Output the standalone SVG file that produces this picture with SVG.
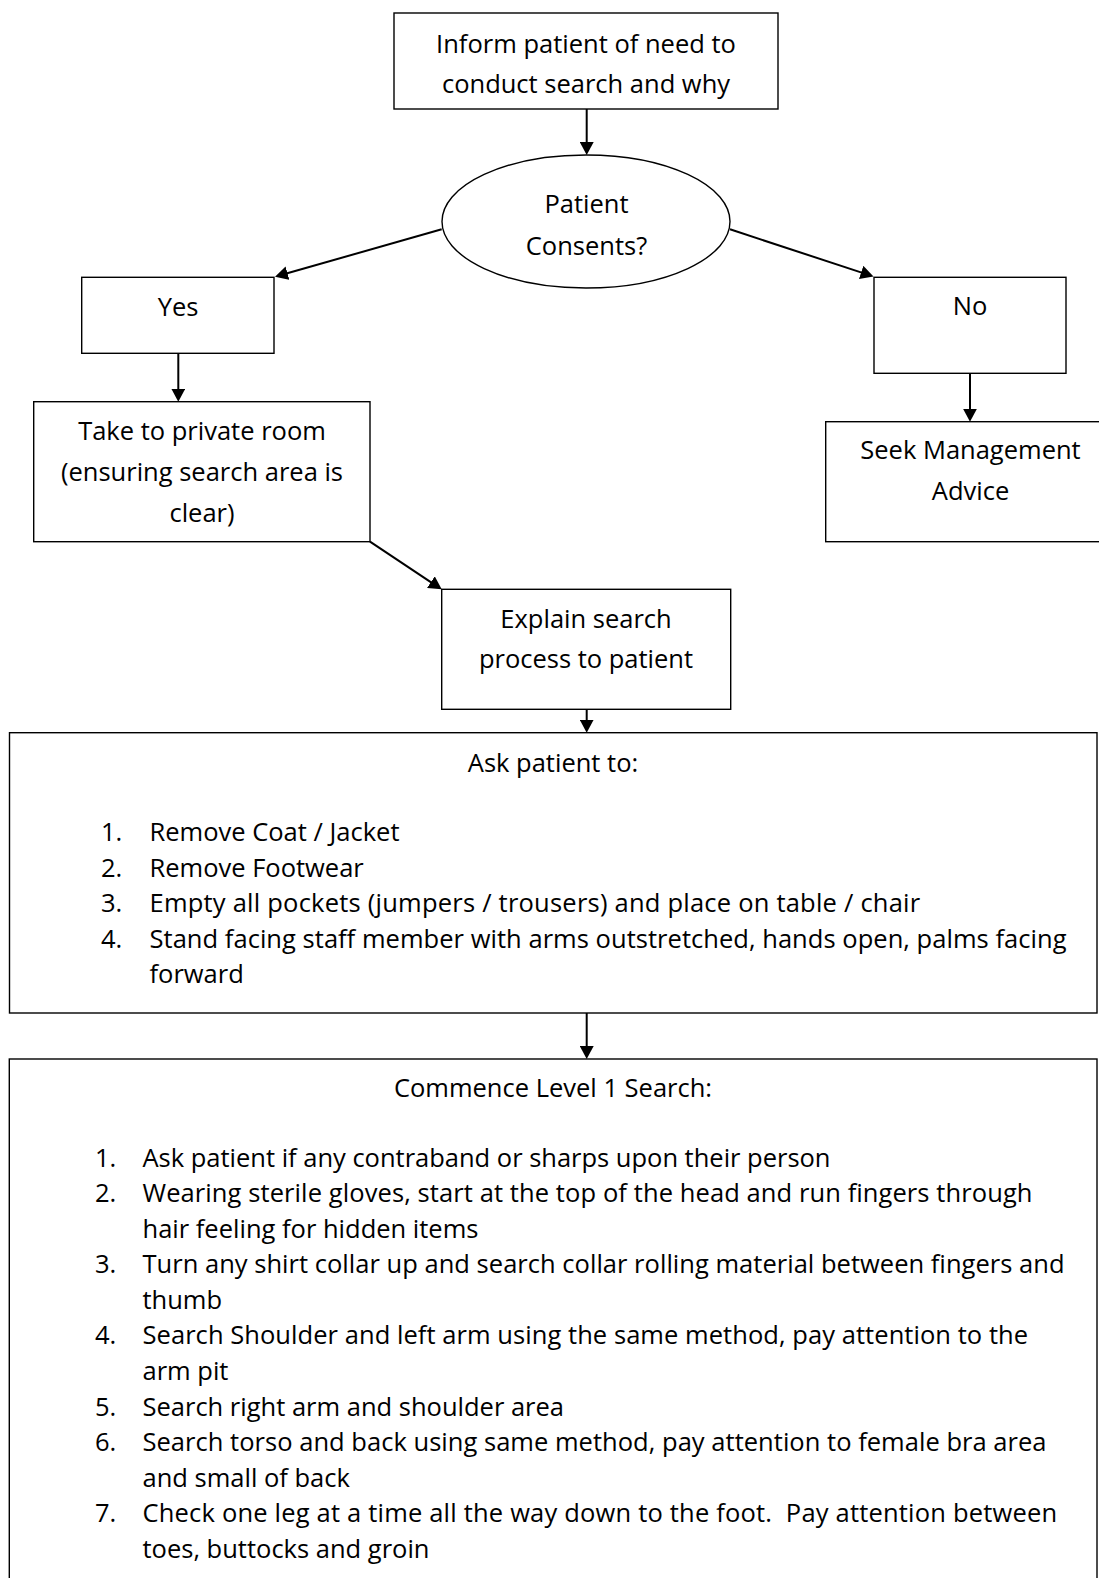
<svg xmlns="http://www.w3.org/2000/svg" width="1099" height="1578" viewBox="0 0 1099 1578">
<style>
.box{fill:#fff;stroke:#000;stroke-width:1.4}
.t{font-family:"Open Sans","Liberation Sans",sans-serif;font-size:25.5px;fill:#000}
.c{text-anchor:middle}
.conn{stroke:#000;stroke-width:2;fill:none;marker-end:url(#ah)}
</style>
<defs>
<marker id="ah" markerUnits="userSpaceOnUse" markerWidth="14" markerHeight="14" refX="3" refY="7" orient="auto" viewBox="0 0 14 14">
<path d="M0,0 L13,7 L0,14 z" fill="#000"/>
</marker>
</defs>
<rect width="1099" height="1578" fill="#fff"/>
<g id="connectors">
<line class="conn" x1="586.7" y1="109" x2="586.7" y2="145"/>
<line class="conn" x1="441.7" y1="229.3" x2="284.6" y2="274"/>
<line class="conn" x1="730" y1="229.3" x2="864" y2="273.4"/>
<line class="conn" x1="178.3" y1="353.3" x2="178.3" y2="391.7"/>
<line class="conn" x1="970" y1="373.3" x2="970" y2="411.7"/>
<line class="conn" x1="370" y1="541.7" x2="433.4" y2="583.8"/>
<line class="conn" x1="586.7" y1="709.3" x2="586.7" y2="722.7"/>
<line class="conn" x1="586.7" y1="1013" x2="586.7" y2="1049"/>
</g>
<g id="n-inform">
<rect class="box" x="394" y="13" width="384" height="96"/>
<text class="t c" x="586" y="53">Inform patient of need to</text>
<text class="t c" x="586" y="92.5">conduct search and why</text>
</g>
<g id="n-consent">
<ellipse class="box" cx="586" cy="221.5" rx="144" ry="66.5"/>
<text class="t c" x="586.5" y="213.3">Patient</text>
<text class="t c" x="586.5" y="255">Consents?</text>
</g>
<g id="n-yes">
<rect class="box" x="81.7" y="277.3" width="192.3" height="76"/>
<text class="t c" x="178" y="316">Yes</text>
</g>
<g id="n-no">
<rect class="box" x="874" y="277.3" width="192" height="96"/>
<text class="t c" x="970" y="315">No</text>
</g>
<g id="n-private">
<rect class="box" x="33.7" y="401.7" width="336.3" height="140"/>
<text class="t c" x="202" y="440">Take to private room</text>
<text class="t c" x="202" y="480.5">(ensuring search area is</text>
<text class="t c" x="202" y="521.5">clear)</text>
</g>
<g id="n-seek">
<rect class="box" x="825.7" y="421.7" width="290" height="120"/>
<text class="t c" x="970.5" y="459">Seek Management</text>
<text class="t c" x="970.5" y="500">Advice</text>
</g>
<g id="n-explain">
<rect class="box" x="441.7" y="589.3" width="289" height="120"/>
<text class="t c" x="586" y="628.3">Explain search</text>
<text class="t c" x="586" y="668.3">process to patient</text>
</g>
<g id="n-ask">
<rect class="box" x="9.5" y="732.7" width="1087.5" height="280.3"/>
<text class="t c" x="553" y="771.7">Ask patient to:</text>
<text class="t" x="101" y="841.2">1.</text><text class="t" x="149.5" y="841.2">Remove Coat / Jacket</text>
<text class="t" x="101" y="876.7">2.</text><text class="t" x="149.5" y="876.7">Remove Footwear</text>
<text class="t" x="101" y="912.3">3.</text><text class="t" x="149.5" y="912.3" textLength="770.7">Empty all pockets (jumpers / trousers) and place on table / chair</text>
<text class="t" x="101" y="947.8">4.</text><text class="t" x="149.5" y="947.8" textLength="917">Stand facing staff member with arms outstretched, hands open, palms facing</text>
<text class="t" x="149.5" y="983.4">forward</text>
</g>
<g id="n-search">
<rect class="box" x="9.3" y="1059" width="1087.7" height="600"/>
<text class="t c" x="553" y="1097">Commence Level 1 Search:</text>
<text class="t" x="95" y="1166.7">1.</text><text class="t" x="142.5" y="1166.7" textLength="688">Ask patient if any contraband or sharps upon their person</text>
<text class="t" x="95" y="1202.2">2.</text><text class="t" x="142.5" y="1202.2" textLength="890">Wearing sterile gloves, start at the top of the head and run fingers through</text>
<text class="t" x="142.5" y="1237.8">hair feeling for hidden items</text>
<text class="t" x="95" y="1273.3">3.</text><text class="t" x="142.5" y="1273.3" textLength="922">Turn any shirt collar up and search collar rolling material between fingers and</text>
<text class="t" x="142.5" y="1308.9">thumb</text>
<text class="t" x="95" y="1344.4">4.</text><text class="t" x="142.5" y="1344.4" textLength="885.6">Search Shoulder and left arm using the same method, pay attention to the</text>
<text class="t" x="142.5" y="1380">arm pit</text>
<text class="t" x="95" y="1415.5">5.</text><text class="t" x="142.5" y="1415.5">Search right arm and shoulder area</text>
<text class="t" x="95" y="1451.1">6.</text><text class="t" x="142.5" y="1451.1" textLength="904">Search torso and back using same method, pay attention to female bra area</text>
<text class="t" x="142.5" y="1486.6">and small of back</text>
<text class="t" x="95" y="1522.2">7.</text><text class="t" x="142.5" y="1522.2" textLength="914.6">Check one leg at a time all the way down to the foot.&#160; Pay attention between</text>
<text class="t" x="142.5" y="1557.7">toes, buttocks and groin</text>
</g>
</svg>
